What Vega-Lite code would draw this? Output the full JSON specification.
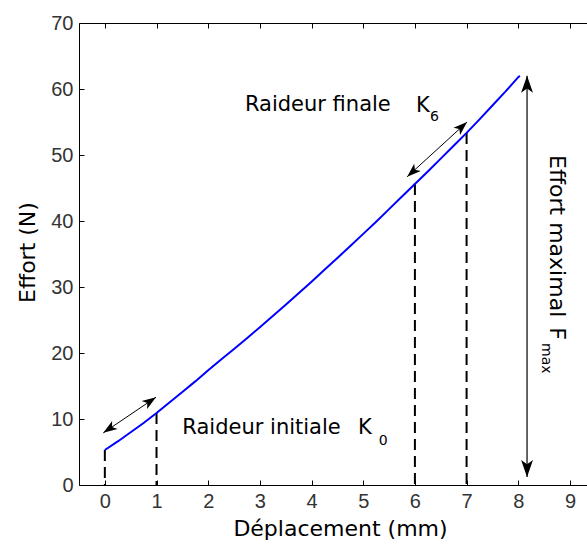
{
  "$schema": "https://vega.github.io/schema/vega-lite/v6.json",
  "width": 508,
  "height": 462,
  "autosize": {"type": "none"},
  "padding": {"left": 79, "top": 23, "right": 0, "bottom": 61},
  "background": "white",
  "config": {
    "view": {"stroke": null},
    "axis": {
      "grid": false,
      "domainColor": "#000",
      "domainWidth": 1,
      "tickColor": "#000",
      "tickWidth": 1,
      "tickSize": -5,
      "labelFont": "Liberation Sans",
      "labelFontSize": 20,
      "labelColor": "#333",
      "titleFont": "DejaVu Sans",
      "titleFontSize": 22,
      "titleFontWeight": "normal",
      "titleColor": "#000"
    }
  },
  "datasets": {
    "curve": [
      {"d": 0, "f": 5.3}, {"d": 0.25, "f": 6.6}, {"d": 0.5, "f": 8.0}, {"d": 0.75, "f": 9.4},
      {"d": 1.0, "f": 10.9}, {"d": 1.25, "f": 12.5}, {"d": 1.5, "f": 14.1}, {"d": 1.75, "f": 15.7},
      {"d": 2.0, "f": 17.4}, {"d": 2.25, "f": 19.0}, {"d": 2.5, "f": 20.6}, {"d": 2.75, "f": 22.25},
      {"d": 3.0, "f": 23.9}, {"d": 3.25, "f": 25.6}, {"d": 3.5, "f": 27.3}, {"d": 3.75, "f": 29.05},
      {"d": 4.0, "f": 30.8}, {"d": 4.25, "f": 32.6}, {"d": 4.5, "f": 34.4}, {"d": 4.75, "f": 36.2},
      {"d": 5.0, "f": 38.05}, {"d": 5.25, "f": 39.9}, {"d": 5.5, "f": 41.8}, {"d": 5.75, "f": 43.7},
      {"d": 6.0, "f": 45.6}, {"d": 6.25, "f": 47.5}, {"d": 6.5, "f": 49.45}, {"d": 6.75, "f": 51.4},
      {"d": 7.0, "f": 53.35}, {"d": 7.25, "f": 55.4}, {"d": 7.5, "f": 57.5}, {"d": 7.75, "f": 59.6},
      {"d": 8.0, "f": 61.8}, {"d": 8.03, "f": 62.0}
    ],
    "dashes": [
      {"d": 0, "f": 5.3}, {"d": 1, "f": 10.9}, {"d": 6, "f": 45.6}, {"d": 7, "f": 53.35}
    ],
    "arrows": [
      {"d": -0.03, "f": 7.9, "d2": 0.99, "f2": 13.3},
      {"d": 5.85, "f": 46.7, "d2": 7.01, "f2": 55.0}
    ],
    "vert": [{"d": 8.17, "f": 1.2, "f2": 62.0}],
    "labels": [
      {"d": 1.5, "f": 7.7, "t": "Raideur initiale"},
      {"d": 4.9, "f": 7.7, "t": "K"},
      {"d": 2.71, "f": 56.7, "t": "Raideur finale"},
      {"d": 6.02, "f": 56.5, "t": "K"}
    ],
    "subs": [
      {"d": 5.3, "f": 6.0, "t": "0"},
      {"d": 6.29, "f": 55.2, "t": "6"}
    ],
    "rot": [
      {"d": 8.61, "f": 50.0, "t": "Effort maximal"},
      {"d": 8.61, "f": 23.9, "t": "F"}
    ],
    "rotsub": [{"d": 8.46, "f": 21.5, "t": "max"}]
  },
  "layer": [
    {
      "data": {"name": "dashes"},
      "mark": {"type": "rule", "color": "#000", "strokeWidth": 2, "strokeDash": [11, 6]},
      "encoding": {
        "x": {"field": "d", "type": "quantitative", "scale": {"domain": [-0.5, 9.33], "nice": false, "zero": false},
              "axis": {"orient": "top", "values": [0,1,2,3,4,5,6,7,8,9], "labels": false, "title": null, "tickSize": -5}},
        "y": {"field": "f", "type": "quantitative", "scale": {"domain": [0, 70], "nice": false},
              "axis": {"orient": "left", "values": [0,10,20,30,40,50,60,70], "labelPadding": 11, "tickSize": -5, "title": "Effort (N)",
                       "titleX": -45, "titleY": 229, "titleBaseline": "alphabetic", "titleAngle": -90}},
        "y2": {"datum": 0}
      }
    },
    {
      "data": {"name": "curve"},
      "mark": {"type": "line", "color": "#0000FF", "strokeWidth": 2},
      "encoding": {
        "x": {"field": "d", "type": "quantitative",
              "axis": {"orient": "bottom", "values": [0,1,2,3,4,5,6,7,8,9], "labelPadding": 11, "tickSize": -5, "title": "Déplacement (mm)",
                       "titleX": 261, "titleY": 50, "titleBaseline": "alphabetic"}},
        "y": {"field": "f", "type": "quantitative"}
      }
    },
    {
      "data": {"name": "arrows"},
      "mark": {"type": "rule", "color": "#000", "strokeWidth": 1},
      "encoding": {
        "x": {"field": "d", "type": "quantitative", "axis": null},
        "y": {"field": "f", "type": "quantitative"},
        "x2": {"field": "d2"},
        "y2": {"field": "f2"}
      }
    },
    {
      "data": {"name": "vert"},
      "mark": {"type": "rule", "color": "#333", "strokeWidth": 1.5},
      "encoding": {
        "x": {"field": "d", "type": "quantitative", "axis": null},
        "y": {"field": "f", "type": "quantitative"},
        "y2": {"field": "f2"}
      }
    },
    {
      "data": {"values": [{"d": 0.99, "f": 13.3}]},
      "mark": {"type": "point", "filled": true, "color": "#000", "opacity": 1, "size": 196, "angle": 56, "shape": "M0,0 L-0.7,2 L0,1.5 L0.7,2 Z"},
      "encoding": {"x": {"field": "d", "type": "quantitative", "axis": null}, "y": {"field": "f", "type": "quantitative"}}
    },
    {
      "data": {"values": [{"d": -0.03, "f": 7.9}]},
      "mark": {"type": "point", "filled": true, "color": "#000", "opacity": 1, "size": 196, "angle": 236, "shape": "M0,0 L-0.7,2 L0,1.5 L0.7,2 Z"},
      "encoding": {"x": {"field": "d", "type": "quantitative", "axis": null}, "y": {"field": "f", "type": "quantitative"}}
    },
    {
      "data": {"values": [{"d": 7.01, "f": 55.0}]},
      "mark": {"type": "point", "filled": true, "color": "#000", "opacity": 1, "size": 196, "angle": 47.6, "shape": "M0,0 L-0.7,2 L0,1.5 L0.7,2 Z"},
      "encoding": {"x": {"field": "d", "type": "quantitative", "axis": null}, "y": {"field": "f", "type": "quantitative"}}
    },
    {
      "data": {"values": [{"d": 5.85, "f": 46.7}]},
      "mark": {"type": "point", "filled": true, "color": "#000", "opacity": 1, "size": 196, "angle": 227.6, "shape": "M0,0 L-0.7,2 L0,1.5 L0.7,2 Z"},
      "encoding": {"x": {"field": "d", "type": "quantitative", "axis": null}, "y": {"field": "f", "type": "quantitative"}}
    },
    {
      "data": {"values": [{"d": 8.17, "f": 62.0}]},
      "mark": {"type": "point", "filled": true, "color": "#000", "opacity": 1, "size": 289, "angle": 0, "shape": "M0,0 L-0.7,2 L0,1.5 L0.7,2 Z"},
      "encoding": {"x": {"field": "d", "type": "quantitative", "axis": null}, "y": {"field": "f", "type": "quantitative"}}
    },
    {
      "data": {"values": [{"d": 8.17, "f": 1.2}]},
      "mark": {"type": "point", "filled": true, "color": "#000", "opacity": 1, "size": 289, "angle": 180, "shape": "M0,0 L-0.7,2 L0,1.5 L0.7,2 Z"},
      "encoding": {"x": {"field": "d", "type": "quantitative", "axis": null}, "y": {"field": "f", "type": "quantitative"}}
    },
    {
      "data": {"name": "labels"},
      "mark": {"type": "text", "font": "DejaVu Sans", "fontSize": 21, "color": "#000", "align": "left", "baseline": "alphabetic"},
      "encoding": {"x": {"field": "d", "type": "quantitative", "axis": null}, "y": {"field": "f", "type": "quantitative"}, "text": {"field": "t"}}
    },
    {
      "data": {"name": "subs"},
      "mark": {"type": "text", "font": "DejaVu Sans", "fontSize": 14, "color": "#000", "align": "left", "baseline": "alphabetic"},
      "encoding": {"x": {"field": "d", "type": "quantitative", "axis": null}, "y": {"field": "f", "type": "quantitative"}, "text": {"field": "t"}}
    },
    {
      "data": {"name": "rot"},
      "mark": {"type": "text", "font": "DejaVu Sans", "fontSize": 22, "color": "#000", "align": "left", "baseline": "alphabetic", "angle": 90},
      "encoding": {"x": {"field": "d", "type": "quantitative", "axis": null}, "y": {"field": "f", "type": "quantitative"}, "text": {"field": "t"}}
    },
    {
      "data": {"name": "rotsub"},
      "mark": {"type": "text", "font": "DejaVu Sans", "fontSize": 14, "color": "#000", "align": "left", "baseline": "alphabetic", "angle": 90},
      "encoding": {"x": {"field": "d", "type": "quantitative", "axis": null}, "y": {"field": "f", "type": "quantitative"}, "text": {"field": "t"}}
    }
  ]
}
